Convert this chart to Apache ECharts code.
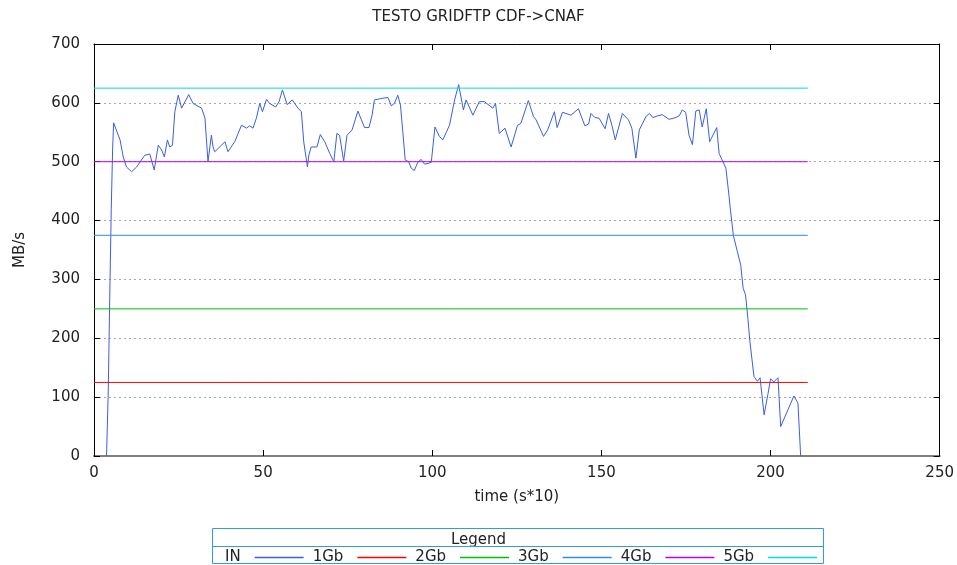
<!DOCTYPE html>
<html>
<head>
<meta charset="utf-8">
<script src="https://cdn.jsdelivr.net/npm/echarts@6/dist/echarts.min.js"></script>
<style>
html,body{margin:0;padding:0;background:#fff;}
#chart{width:957px;height:565px;}
</style>
</head>
<body>
<div id="chart"></div>
<script>
// ---- data ----
var chartTitle = 'TESTO GRIDFTP CDF->CNAF';
var xName = 'time (s*10)';
var yName = 'MB/s';
var seriesNames = ['IN', '1Gb', '2Gb', '3Gb', '4Gb', '5Gb'];
var gbLevels = [125, 250, 375, 500, 625];   // MB/s for 1..5 Gb
var levelStart = 0;
var levelEnd = 211;

var inTime = [3.7, 4.2, 4.6, 5.1, 5.5, 5.8, 7.7, 8.65, 9.6, 11.1, 12.6, 15.0, 16.5, 17.0, 17.8, 19.0, 20.0, 20.8, 21.7, 22.4, 23.2, 23.9, 24.9, 25.9, 26.9, 28.0, 29.3, 31.8, 32.8, 33.7, 34.7, 35.2, 35.7, 37.7, 38.7, 39.6, 41.6, 43.6, 44.1, 45.1, 46.0, 47.0, 48.0, 49.0, 49.8, 51.0, 51.9, 53.7, 54.7, 55.7, 57.1, 58.6, 60.3, 61.3, 62.0, 63.1, 63.5, 64.2, 65.9, 66.9, 68.2, 69.7, 70.9, 71.8, 72.6, 73.8, 74.8, 76.3, 78.0, 78.5, 80.0, 81.3, 82.2, 82.9, 85.4, 86.9, 87.9, 88.8, 89.8, 90.6, 91.3, 92.0, 93.0, 93.8, 94.7, 95.7, 96.7, 97.7, 98.7, 99.7, 100.8, 102.1, 103.1, 105.1, 106.6, 107.8, 109.2, 110.0, 112.0, 113.9, 115.4, 117.9, 118.7, 119.8, 121.5, 123.3, 123.8, 125.2, 126.2, 128.4, 129.9, 130.7, 132.9, 134.1, 136.1, 136.9, 138.5, 141.0, 143.2, 145.1, 146.2, 146.9, 148.1, 149.3, 151.1, 152.1, 153.1, 154.1, 156.2, 158.0, 159.0, 160.2, 161.2, 163.2, 164.2, 165.2, 166.7, 168.0, 170.0, 172.0, 173.0, 173.9, 174.9, 175.9, 176.9, 177.9, 178.9, 179.8, 181.0, 182.0, 184.1, 184.8, 186.8, 187.7, 188.2, 189.0, 190.2, 191.2, 191.9, 192.6, 193.3, 193.9, 194.6, 195.1, 196.1, 196.9, 198.1, 199.2, 200.0, 201.0, 202.2, 203.0, 206.9, 208.1, 208.9];
var inValues = [0, 107, 250, 420, 520, 566, 537, 508, 491, 483, 491, 511, 513, 515, 486, 528, 520, 508, 537, 525, 528, 585, 613, 591, 602, 614, 599, 591, 574, 500, 545, 525, 517, 528, 534, 517, 534, 562, 562, 557, 561, 557, 574, 599, 585, 606, 599, 593, 602, 622, 597, 605, 591, 585, 534, 491, 511, 525, 525, 546, 534, 514, 500, 548, 545, 501, 545, 554, 586, 585, 558, 558, 579, 605, 608, 609, 595, 599, 613, 596, 550, 503, 500, 489, 485, 499, 504, 496, 497, 499, 559, 543, 537, 562, 605, 631, 588, 605, 579, 602, 602, 591, 599, 548, 557, 525, 526, 562, 565, 604, 577, 571, 543, 554, 585, 558, 584, 579, 590, 561, 564, 582, 575, 574, 556, 582, 562, 537, 582, 571, 557, 506, 554, 577, 582, 575, 578, 580, 572, 575, 578, 588, 584, 545, 529, 586, 588, 559, 590, 534, 558, 514, 489, 443, 415, 375, 347, 324, 285, 274, 234, 194, 160, 135, 127, 133, 70, 104, 131, 126, 133, 50, 102, 90, 0];

var seriesColors = ['#3a5fe0', '#ff0000', '#00c000', '#2a8cff', '#c000ff', '#00e0e0'];

// ---- build chart ----
var FONT = 'DejaVu Sans';
var TXT = '#222';

var inData = inTime.map(function (t, i) { return [t, inValues[i]]; });
var series = [{
  name: seriesNames[0], type: 'line', data: inData, symbol: 'none', showSymbol: false,
  lineStyle: { color: seriesColors[0], width: 1 }, itemStyle: { color: seriesColors[0] },
  z: 2
}];
gbLevels.forEach(function (lv, i) {
  series.push({
    name: seriesNames[i + 1], type: 'line', symbol: 'none', showSymbol: false,
    data: [[levelStart, lv], [levelEnd, lv]],
    lineStyle: { color: seriesColors[i + 1], width: 1 }, itemStyle: { color: seriesColors[i + 1] },
    z: 3
  });
});

var chart = echarts.init(document.getElementById('chart'), null, { renderer: 'canvas' });
chart.setOption({
  animation: false,
  backgroundColor: '#fff',
  title: [{
    text: chartTitle, left: 'center', top: 5,
    textStyle: { fontFamily: FONT, fontSize: 15, fontWeight: 'normal', color: TXT }
  }, {
    text: 'Legend', left: 'center', top: 528,
    textStyle: { fontFamily: FONT, fontSize: 15, fontWeight: 'normal', color: TXT }
  }],
  grid: { left: 94, right: 16, top: 44, bottom: 109, containLabel: false },
  legend: {
    data: seriesNames, left: 225, top: 550, padding: 0, align: 'right',
    icon: 'rect', itemWidth: 49, itemHeight: 1.5, itemGap: 9,
    formatter: '{n|{name}}',
    textStyle: {
      fontFamily: FONT, fontSize: 15, color: TXT,
      rich: { n: { fontFamily: FONT, fontSize: 15, color: TXT, width: 30, align: 'right', padding: [0, 9, 0, 0] } }
    }
  },
  xAxis: [{
    type: 'value', min: 0, max: 250, interval: 50, position: 'bottom',
    name: xName, nameLocation: 'middle', nameGap: 34,
    nameTextStyle: { fontFamily: FONT, fontSize: 15, color: TXT },
    axisLine: { show: true, onZero: false, lineStyle: { color: '#808080', width: 2 } },
    axisTick: { show: true, inside: true, length: 6, lineStyle: { color: '#000' } },
    axisLabel: { fontFamily: FONT, fontSize: 15, color: TXT, margin: 10 },
    splitLine: { show: false }
  }, {
    type: 'value', min: 0, max: 250, interval: 50, position: 'top',
    axisLine: { show: true, onZero: false, lineStyle: { color: '#000', width: 1 } },
    axisTick: { show: true, inside: true, length: 6, lineStyle: { color: '#000' } },
    axisLabel: { show: false }, splitLine: { show: false }
  }],
  yAxis: [{
    type: 'value', min: 0, max: 700, interval: 100, position: 'left',
    name: yName, nameLocation: 'middle', nameGap: 66, nameRotate: 90,
    nameTextStyle: { fontFamily: FONT, fontSize: 15, color: TXT },
    axisLine: { show: true, onZero: false, lineStyle: { color: '#000', width: 1 } },
    axisTick: { show: true, inside: true, length: 6, lineStyle: { color: '#000' } },
    axisLabel: { fontFamily: FONT, fontSize: 15, color: TXT, margin: 14 },
    splitLine: { show: true, lineStyle: { color: '#aaa', width: 1, type: [2, 3] } }
  }, {
    type: 'value', min: 0, max: 700, interval: 100, position: 'right',
    axisLine: { show: true, onZero: false, lineStyle: { color: '#000', width: 1 } },
    axisTick: { show: true, inside: true, length: 6, lineStyle: { color: '#000' } },
    axisLabel: { show: false }, splitLine: { show: false }
  }],
  graphic: [{
    type: 'rect', shape: { x: 212.5, y: 528.5, width: 611, height: 35 },
    style: { fill: 'none', stroke: '#3399ee', lineWidth: 1 }, z: 10
  }, {
    type: 'line', shape: { x1: 212.5, y1: 546.5, x2: 823.5, y2: 546.5 },
    style: { stroke: '#3399ee', lineWidth: 1 }, z: 10
  }],
  series: series
});
</script>
</body>
</html>
